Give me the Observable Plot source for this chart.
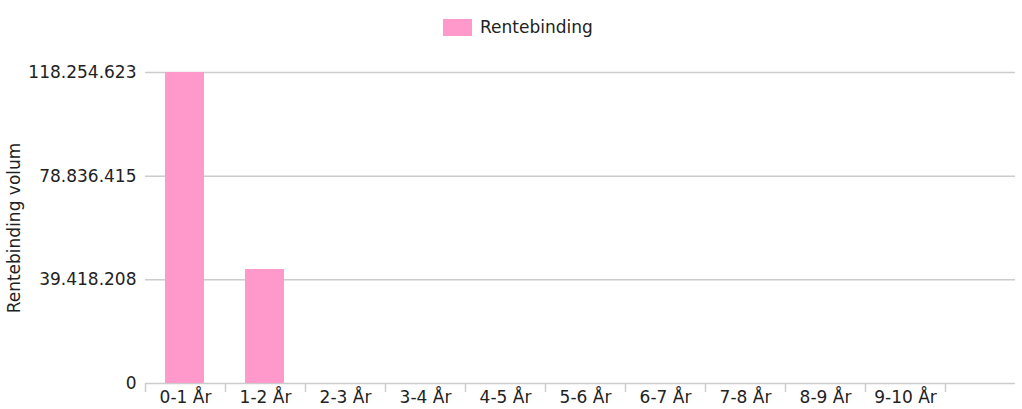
<!DOCTYPE html>
<html>
<head>
<meta charset="utf-8">
<script src="https://cdn.jsdelivr.net/npm/d3@7"></script>
<script src="https://cdn.jsdelivr.net/npm/@observablehq/plot@0.6"></script>
<style>
  html, body { margin: 0; padding: 0; background: #fff; }
  #wrap { position: relative; width: 1022px; height: 409px; font-family: "DejaVu Sans", sans-serif; }
  #legend { position: absolute; top: 17px; left: 443px; display: flex; align-items: center; font-size: 17px; color: #222; }
  #legend .sw { width: 29px; height: 17px; background: #ff99cc; margin-right: 8px; }
</style>
</head>
<body>
<div id="wrap">
  <div id="chart"></div>
  <div id="legend"><div class="sw"></div><span>Rentebinding</span></div>
</div>
<script>
const categories = ["0-1 År", "1-2 År", "2-3 År", "3-4 År", "4-5 År", "5-6 År", "6-7 År", "7-8 År", "8-9 År", "9-10 År"];
const values = [118254623, 43350000, 0, 0, 0, 0, 0, 0, 0, 0];
const yTicks = [0, 39418208, 78836415, 118254623];
const yTickLabels = ["0", "39.418.208", "78.836.415", "118.254.623"];
const seriesName = "Rentebinding";
const yLabel = "Rentebinding volum";

const data = categories.map((c, i) => ({i, category: c, value: values[i]}));
const boundaries = d3.range(categories.length + 1);
const centers = categories.map((c, i) => i + 0.5);

const chart = Plot.plot({
  width: 1022,
  height: 409,
  marginTop: 72,
  marginBottom: 26,
  marginLeft: 145,
  marginRight: 7,
  style: {fontFamily: "DejaVu Sans, sans-serif", fontSize: "17px", color: "#222", background: "#fff"},
  x: {type: "linear", domain: [0, categories.length], range: [145, 945]},
  y: {domain: [0, 118254623]},
  marks: [
    Plot.ruleY(yTicks, {stroke: "#cccccc", strokeWidth: 1.5}),
    Plot.rectY(data, {x1: "i", x2: d => d.i + 1, y: "value", fill: "#ff99cc", insetLeft: 20, insetRight: 21}),
    Plot.axisX({ticks: boundaries, tickSize: 9, tickFormat: () => "", stroke: "#cccccc", strokeWidth: 1.5, label: null}),
    Plot.axisX({ticks: centers, tickSize: 0, tickPadding: 7, tickFormat: (d) => categories[Math.round(d - 0.5)], fill: "#222", fontSize: 17, label: null}),
    Plot.axisY({ticks: yTicks, tickSize: 0, tickPadding: 9, tickFormat: (d, k) => yTickLabels[k], fill: "#222", fontSize: 17, label: null}),
    Plot.text([yLabel], {frameAnchor: "left", dx: -131, rotate: -90, lineAnchor: "middle", textAnchor: "middle", fill: "#222", fontSize: 17})
  ]
});
document.getElementById("chart").appendChild(chart);
</script>
</body>
</html>
